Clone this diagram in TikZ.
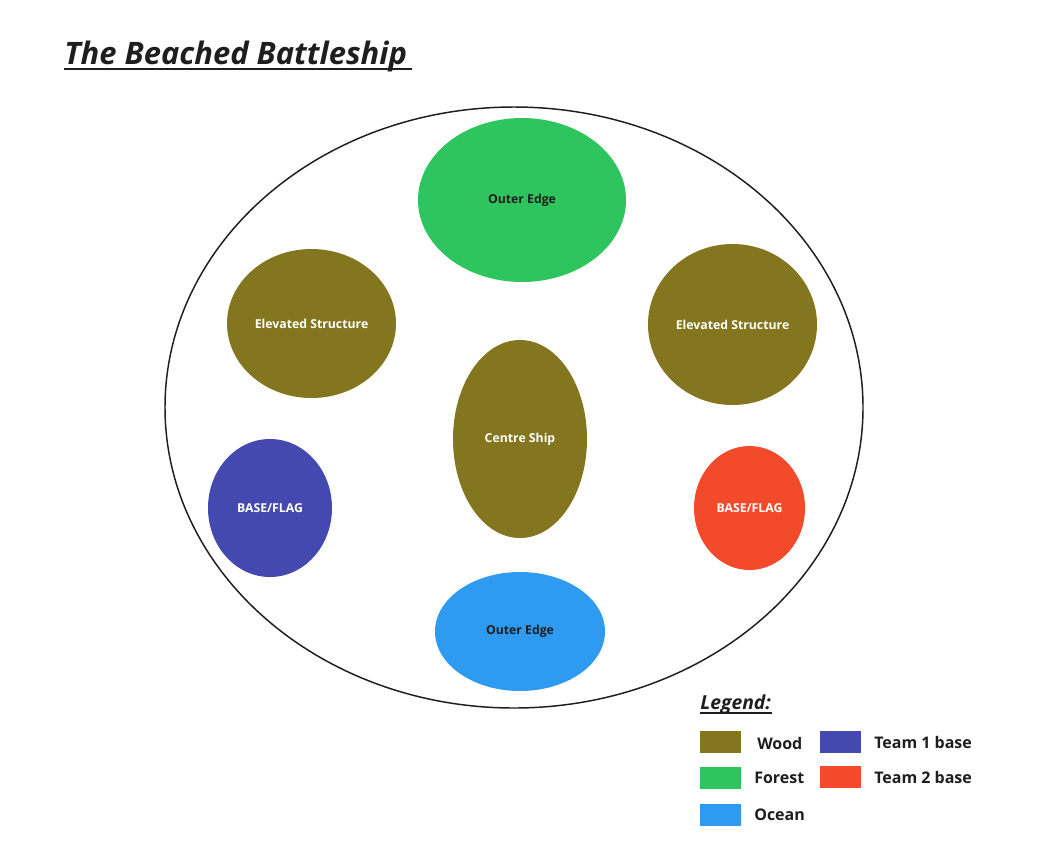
\documentclass[tikz,border=0pt]{standalone}
\usepackage{fontspec}
\setmainfont{Open Sans}
\usetikzlibrary{shapes.geometric}
\definecolor{wood}{RGB}{132,117,31}
\definecolor{forest}{RGB}{46,197,94}
\definecolor{ocean}{RGB}{46,155,240}
\definecolor{teamone}{RGB}{67,73,174}
\definecolor{teamtwo}{RGB}{242,74,42}
\definecolor{ink}{RGB}{30,30,30}
\tikzset{
  zone/.style={ellipse, inner sep=0pt, align=center, font=\bfseries\fontsize{9.2}{11}\selectfont},
  lightzone/.style={zone, text=white},
  darkzone/.style={zone, text=ink},
  swatch/.style={rectangle, inner sep=0pt, minimum width=30.75pt, minimum height=16.5pt},
  keytxt/.style={font=\bfseries\fontsize{12}{14}\selectfont, text=ink, anchor=west, inner sep=0pt},
}

\begin{document}
\begin{tikzpicture}[x=0.75pt, y=-0.75pt]
\useasboundingbox[fill=white] (0,0) rectangle (1038,865);
% title
\node[anchor=base west, inner sep=0pt, font=\bfseries\itshape\fontsize{23.2}{27}\selectfont, text=ink] (title) at (64,64) {The Beached Battleship};
\draw[ink, line width=1.5pt] (title.base west) ++(0,5) coordinate (tl) -- ++(348,0) coordinate (tr);
% map
\node[ellipse, draw=ink, line width=1.1pt, minimum width=523.5pt, minimum height=450.75pt] (field) at (514,407.5) {};
\node[darkzone, fill=forest, minimum width=156pt, minimum height=123pt] (north) at (522,200) {Outer Edge};
\node[lightzone, fill=wood, minimum width=126.75pt, minimum height=111.75pt] (elevl) at (311.5,323.5) {Elevated Structure};
\node[lightzone, fill=wood, minimum width=126.75pt, minimum height=120.75pt] (elevr) at (732.5,324.5) {Elevated Structure};
\node[lightzone, fill=wood, minimum width=100.5pt, minimum height=148.5pt] (ship) at (520,439) {Centre Ship};
\node[lightzone, fill=teamone, minimum width=93pt, minimum height=103.5pt] (basel) at (270,508) {BASE/FLAG};
\node[lightzone, fill=teamtwo, minimum width=83.25pt, minimum height=93pt] (baser) at (749.5,508) {BASE/FLAG};
\node[darkzone, fill=ocean, minimum width=127.5pt, minimum height=89.25pt] (south) at (520,631.5) {Outer Edge};
% legend
\node[anchor=base west, inner sep=0pt, font=\bfseries\itshape\fontsize{14.5}{17}\selectfont, text=ink] (legend) at (700,709) {Legend:};
\draw[ink, line width=1pt] (legend.base west) ++(0,4) -- ++(72,0);
\node[swatch, fill=wood] (kwood) at (720.5,742) {};
\node[swatch, fill=forest] (kforest) at (720.5,778) {};
\node[swatch, fill=ocean] (kocean) at (720.5,815) {};
\node[swatch, fill=teamone] (kone) at (840.5,742) {};
\node[swatch, fill=teamtwo] (ktwo) at (840.5,777) {};
\node[keytxt] (twood) at (757,743) {Wood};
\node[keytxt] (tforest) at (754,778) {Forest};
\node[keytxt] (tocean) at (754,815) {Ocean};
\node[keytxt] (tone) at (874,742) {Team 1 base};
\node[keytxt] (ttwo) at (874,777) {Team 2 base};
\end{tikzpicture}
\end{document}
